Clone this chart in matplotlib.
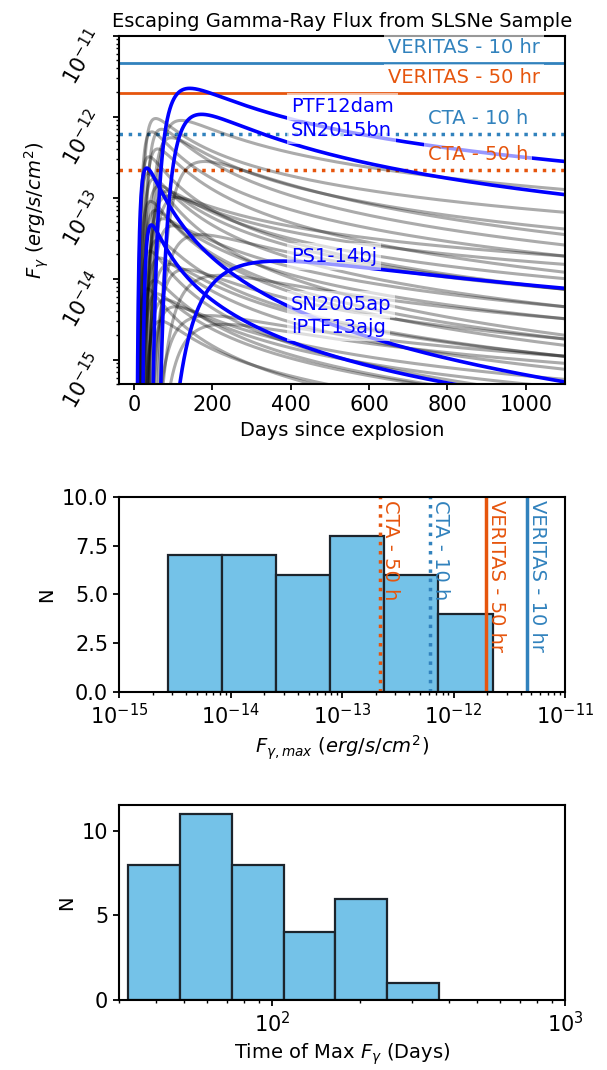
import numpy as np
import matplotlib
matplotlib.use('Agg')
import matplotlib.pyplot as plt
from matplotlib import rc

rc('font', size=14)
rc('axes', linewidth=1.5)
rc('xtick', labelsize=15)
rc('ytick', labelsize=15)
rc('xtick.major', size=4.5, width=1.3)
rc('ytick.major', size=4.5, width=1.3)
rc('xtick.minor', size=2.5, width=1.0)
rc('ytick.minor', size=2.5, width=1.0)

# %% sensitivities (erg/s/cm^2)
veritas_10 = 4.55e-12
veritas_50 = 1.95e-12
cta_10 = 6.1e-13
cta_50 = 2.2e-13

c_blue = '#3182bd'
c_orange = '#e6550d'

# %% highlighted SNe: peak day, peak flux, flux at day 1100, rise sharpness
hl_names = ['PTF12dam', 'SN2015bn', 'SN2005ap', 'iPTF13ajg', 'PS1-14bj']
hl_tpeak = [142, 172, 32.2, 44, 371]
hl_fpeak = [2.24e-12, 1.07e-12, 2.32e-13, 4.6e-14, 1.65e-14]
hl_fend = [2.8e-13, 1.09e-13, 5.3e-16, 3.0e-16, 7.6e-15]
hl_rise = [3.0, 3.3, 1.5, 4.0, 1.8]
hl_label_y = [1.35e-12, 6.85e-13, 4.8e-15, 2.5e-15, 1.9e-14]

# rest of the sample
gr_tpeak = [55, 120, 45, 70, 95, 60, 38, 180, 35, 50, 65, 85, 110, 90, 42,
            55, 75, 100, 170, 60, 40, 65, 90, 130, 220, 52,
            34, 58, 80, 105, 190, 68, 230]
gr_fpeak = [9.5e-13, 9.0e-13, 6.5e-13, 7.0e-13, 5.5e-13, 4.0e-13, 3.2e-13, 2.8e-13,
            2.0e-13, 1.7e-13, 1.4e-13, 1.2e-13, 1.0e-13, 1.05e-13, 9.0e-14,
            7.0e-14, 5.5e-14, 4.5e-14, 3.5e-14, 3.0e-14,
            2.2e-14, 1.8e-14, 1.5e-14, 1.3e-14, 1.1e-14, 9.5e-15,
            7.5e-15, 6.5e-15, 5.5e-15, 4.5e-15, 3.5e-15, 3.0e-15, 2.73e-15]
gr_fend = [6.6e-14, 1.26e-13, 1.9e-14, 2.6e-14, 4.1e-14, 1.2e-14, 7.4e-15, 3.5e-14,
           2.0e-15, 4.5e-15, 7.4e-15, 1.0e-14, 1.9e-14, 1.5e-14, 1.5e-15,
           1.8e-15, 3.2e-15, 4.5e-15, 7.4e-15, 1.1e-15,
           3.5e-16, 7.6e-16, 1.1e-15, 1.8e-15, 3.2e-15, 3.0e-16,
           1.5e-16, 3.0e-16, 4.5e-16, 5.7e-16, 1.1e-15, 2.0e-16, 9.0e-16]
gr_rise = [2.5, 3.0, 2.0, 2.5, 3.0, 2.5, 1.8, 2.5, 1.6, 2.2, 2.5, 2.8, 3.0, 2.5, 1.8,
           2.2, 2.5, 2.8, 2.2, 2.5, 1.8, 2.2, 2.5, 2.5, 2.0, 2.2,
           1.6, 2.2, 2.5, 2.5, 2.0, 2.5, 2.0]


def lightcurve(t, tp, fp, fend, k, tend=1100.):
    # peaked curve: steep rise, power-law tail, fixed by peak and end flux
    p = np.log(fp / fend) / (np.log(tend / tp) - (1 - (tp / tend)**k) / k)
    x = tp / t
    return np.maximum(fp * x**p * np.exp(p / k * (1 - x**k)), 1e-30)


def log_bins(vals, n=6):
    edges = np.logspace(np.log10(vals.min()), np.log10(vals.max()), n + 1)
    edges[0] = vals.min() * 0.999
    edges[-1] = vals.max() * 1.001
    return edges


days = np.linspace(1, 1100, 3000)
fpeak_all = np.array(hl_fpeak + gr_fpeak)
tpeak_all = np.array(hl_tpeak + gr_tpeak)

# %%
fig = plt.figure(figsize=(6.07, 10.7), dpi=100)
ax1 = fig.add_axes([0.1965, 0.6411, 0.7343, 0.3255])
ax2 = fig.add_axes([0.1965, 0.3535, 0.7343, 0.1822])
ax3 = fig.add_axes([0.1965, 0.0654, 0.7343, 0.1825])

ax1.axhline(veritas_10, color=c_blue, lw=2)
ax1.axhline(veritas_50, color=c_orange, lw=2)
ax1.axhline(cta_10, color=c_blue, lw=2.5, ls=':')
ax1.axhline(cta_50, color=c_orange, lw=2.5, ls=':')

for tp, fp, fe, k in zip(gr_tpeak, gr_fpeak, gr_fend, gr_rise):
    ax1.plot(days, lightcurve(days, tp, fp, fe, k), color='k', alpha=0.33, lw=2.2)
for tp, fp, fe, k in zip(hl_tpeak, hl_fpeak, hl_fend, hl_rise):
    ax1.plot(days, lightcurve(days, tp, fp, fe, k), color='blue', lw=2.6)

box = dict(facecolor='white', alpha=0.6, edgecolor='none', pad=3)
for name, y in zip(hl_names, hl_label_y):
    ax1.text(400, y, name, color='blue', va='center', ha='left', bbox=box, zorder=5)
ax1.text(648, 7.15e-12, 'VERITAS - 10 hr', color=c_blue, va='center', bbox=box, zorder=5)
ax1.text(648, 3.05e-12, 'VERITAS - 50 hr', color=c_orange, va='center', bbox=box, zorder=5)
ax1.text(750, 9.5e-13, 'CTA - 10 h', color=c_blue, va='center', bbox=box, zorder=5)
ax1.text(750, 3.4e-13, 'CTA - 50 h', color=c_orange, va='center', bbox=box, zorder=5)

ax1.set_yscale('log')
ax1.set_xlim(-38, 1100)
ax1.set_ylim(5e-16, 1e-11)
ax1.set_yticks([1e-15, 1e-14, 1e-13, 1e-12, 1e-11])
ax1.set_xticks([0, 200, 400, 600, 800, 1000])
ax1.tick_params(axis='y', labelrotation=60)
ax1.set_xlabel('Days since explosion')
ax1.set_ylabel(r'$F_{\gamma}\ (erg/s/cm^2)$')
ax1.set_title('Escaping Gamma-Ray Flux from SLSNe Sample', fontsize=14)

# %%
hist_kw = dict(color='#74c2e8', edgecolor='#1c242c', linewidth=1.6)
ax2.hist(fpeak_all, bins=log_bins(fpeak_all), **hist_kw)
for val, col, ls, lab in [(cta_50, c_orange, ':', 'CTA - 50 h'),
                          (cta_10, c_blue, ':', 'CTA - 10 h'),
                          (veritas_50, c_orange, '-', 'VERITAS - 50 hr'),
                          (veritas_10, c_blue, '-', 'VERITAS - 10 hr')]:
    ax2.axvline(val, color=col, ls=ls, lw=2.5)
    ax2.text(val * 1.02, 9.85, lab, color=col, rotation=270, ha='left', va='top')
ax2.set_xscale('log')
ax2.set_xlim(1e-15, 1e-11)
ax2.set_xticks([1e-15, 1e-14, 1e-13, 1e-12, 1e-11])
ax2.set_ylim(0, 10)
ax2.set_yticks([0, 2.5, 5, 7.5, 10])
ax2.set_ylabel('N')
ax2.set_xlabel(r'$F_{\gamma,max}\ (erg/s/cm^2)$')

# %%
ax3.hist(tpeak_all, bins=log_bins(tpeak_all), **hist_kw)
ax3.set_xscale('log')
ax3.set_xlim(30, 1000)
ax3.set_xticks([100, 1000])
ax3.set_yticks([0, 5, 10])
ax3.set_ylabel('N')
ax3.set_xlabel(r'Time of Max $F_{\gamma}$ (Days)')

fig.savefig('out.png', dpi=100)
